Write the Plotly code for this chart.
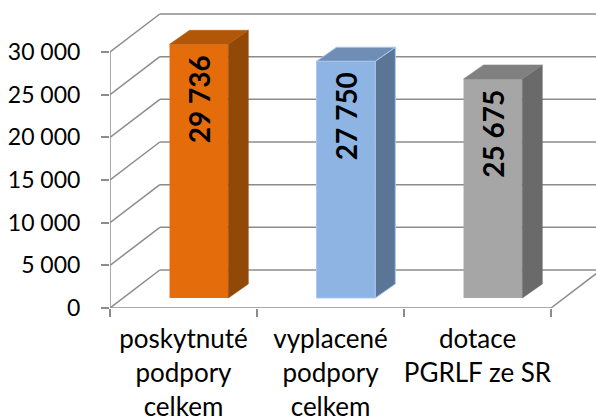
import plotly.graph_objects as go

# ---- data ----
categories = ["poskytnuté<br>podpory<br>celkem",
              "vyplacené<br>podpory<br>celkem",
              "dotace<br>PGRLF ze SR"]
values = [29736, 27750, 25675]
y_ticks = [0, 5000, 10000, 15000, 20000, 25000, 30000]
y_tick_labels = ["0", "5 000", "10 000", "15 000", "20 000", "25 000", "30 000"]

# ---- styles ----
front_colors = ["#E46C0A", "#8EB4E3", "#A6A6A6"]
top_colors = ["#B05808", "#6F8DB5", "#808080"]
side_colors = ["#924807", "#5B7597", "#6A6A6A"]
edge_colors = ["#E46C0A", "#A9C8EE", "#A6A6A6"]
edge_widths = [0, 1, 0]
GRID = "#8C8C8C"
FONT = "Lato"

# ---- oblique 3D geometry (data units) ----
X_RANGE = [-0.5, 2.806]
Y_RANGE = [0, 36094]
WALL_DX, WALL_DY = 0.339, 4453      # depth of the floor / back wall
BAR_DX, BAR_DY = 0.136, 1640        # depth of each column
BAR_BASE = 1172                     # front face sits part-way into the floor
BAR_OFFSET, BAR_WIDTH = -0.095, 0.40

xs = list(range(len(categories)))
x_left, x_right = -0.5, len(categories) - 0.5

fig = go.Figure()

# front faces
fig.add_trace(go.Bar(
    x=xs, y=values, base=BAR_BASE, width=BAR_WIDTH, offset=BAR_OFFSET,
    marker=dict(color=front_colors, line=dict(color=edge_colors, width=edge_widths)),
    hoverinfo="skip", showlegend=False,
))

# side and top faces
for i, v in enumerate(values):
    x0 = xs[i] + BAR_OFFSET
    x1 = x0 + BAR_WIDTH
    top = BAR_BASE + v
    lw = edge_widths[i]
    fig.add_trace(go.Scatter(
        x=[x1, x1 + BAR_DX, x1 + BAR_DX, x1, x1],
        y=[BAR_BASE, BAR_BASE + BAR_DY, top + BAR_DY, top, BAR_BASE],
        fill="toself", fillcolor=side_colors[i], mode="lines",
        line=dict(color=edge_colors[i] if lw else side_colors[i], width=lw if lw else 0.5),
        hoverinfo="skip", showlegend=False,
    ))
    fig.add_trace(go.Scatter(
        x=[x0, x1, x1 + BAR_DX, x0 + BAR_DX, x0],
        y=[top, top, top + BAR_DY, top + BAR_DY, top],
        fill="toself", fillcolor=top_colors[i], mode="lines",
        line=dict(color=edge_colors[i] if lw else top_colors[i], width=lw if lw else 0.5),
        hoverinfo="skip", showlegend=False,
    ))
    fig.add_annotation(
        x=(x0 + x1) / 2, y=top, xref="x", yref="y",
        text=f"{v:,}".replace(",", " "), textangle=-90,
        showarrow=False, yanchor="top", xanchor="center", yshift=-9,
        font=dict(family=FONT, size=28, color="#000000", weight=700),
    )

# walls, floor and gridlines
shapes = []
line = dict(color=GRID, width=1.5)
for v in y_ticks:
    shapes.append(dict(type="line", xref="x", yref="y", layer="below",
                       x0=x_left + WALL_DX, y0=v + WALL_DY,
                       x1=x_right + WALL_DX + 1, y1=v + WALL_DY, line=line))
    shapes.append(dict(type="line", xref="x", yref="y", layer="below",
                       x0=x_left, y0=v, x1=x_left + WALL_DX, y1=v + WALL_DY, line=line))
# front vertical axis
shapes.append(dict(type="line", xref="x", yref="y", layer="below",
                   x0=x_left, y0=0, x1=x_left, y1=max(y_ticks), line=line))
# floor front edge and right edge
shapes.append(dict(type="line", xref="x", yref="y", layer="below",
                   x0=x_left, y0=0, x1=x_right, y1=0, line=line))
shapes.append(dict(type="line", xref="x", yref="y", layer="below",
                   x0=x_right, y0=0, x1=x_right + WALL_DX, y1=WALL_DY, line=line))

fig.update_layout(
    width=596, height=417,
    margin=dict(l=110, r=0, t=0, b=109, autoexpand=False),
    paper_bgcolor="white", plot_bgcolor="white",
    shapes=shapes, showlegend=False,
    font=dict(family=FONT, color="#000000"),
)
fig.update_xaxes(
    range=X_RANGE, tickvals=xs, ticktext=categories, ticks="",
    showgrid=False, zeroline=False, showline=False,
    tickfont=dict(family=FONT, size=26, color="#000000"),
    ticklabelstandoff=13, automargin=False,
    minor=dict(tickmode="array", tickvals=[x_left + k for k in range(len(categories) + 1)],
               ticks="outside", ticklen=8, tickcolor=GRID, tickwidth=1.5, showgrid=False),
)
fig.update_yaxes(
    range=Y_RANGE, tickvals=y_ticks, ticktext=y_tick_labels,
    ticks="outside", ticklen=8, tickcolor=GRID, tickwidth=1.5,
    showgrid=False, zeroline=False, showline=False,
    tickfont=dict(family=FONT, size=23, color="#000000"),
    ticklabelstandoff=16, automargin=False,
)

fig.write_html(
    "out.html",
    config={"displayModeBar": False},
    post_script="document.body.style.margin='0';document.body.style.overflow='hidden';",
)
